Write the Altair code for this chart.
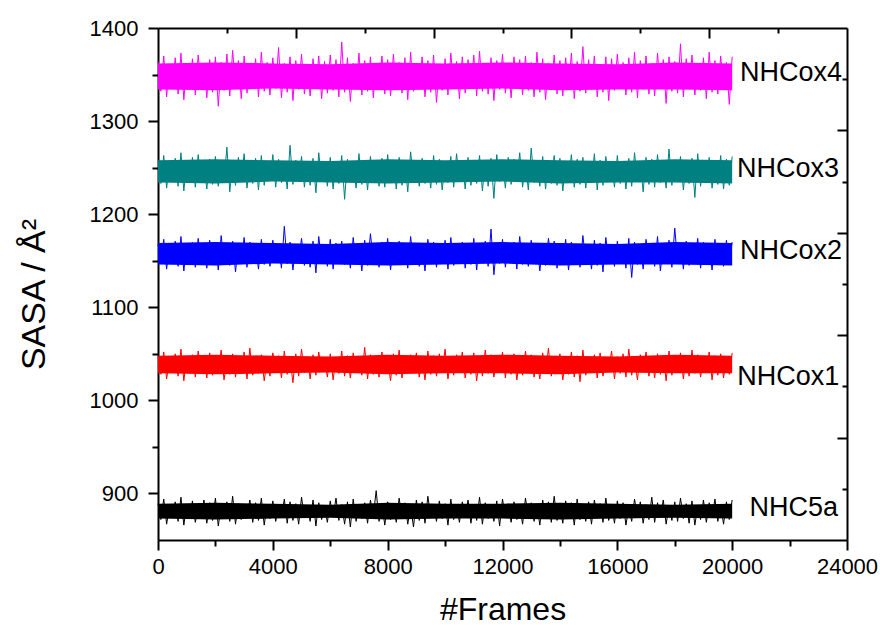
import altair as alt
import pandas as pd

FONT = "Liberation Sans"

SERIES = ["NHC5a", "NHCox1", "NHCox2", "NHCox3", "NHCox4"]
COLORS = ["#000000", "#FF0000", "#0000FF", "#008080", "#FF00FF"]

# zig-zag samples (every 100 frames): upper excursions at even samples, lower at odd samples
HI = {
    "NHC5a": [
        889, 894, 886, 891, 896, 888, 892, 885, 893, 890,
        895, 887, 891, 897, 889, 886, 893, 890, 895, 888,
        892, 886, 894, 891, 889, 896, 887, 893, 890, 885,
        892, 895, 888, 891, 894, 886, 890, 893, 903, 889,
        891, 887, 895, 890, 886, 893, 891, 897, 888, 892,
        889, 894, 886, 891, 893, 888, 896, 890, 887, 892,
        894, 889, 891, 886, 895, 890, 888, 893, 891, 897,
        887, 892, 890, 894, 886, 891, 893, 889, 895, 888,
        892, 890, 886, 894, 891, 888, 896, 890, 893, 887,
        891, 895, 889, 892, 886, 893, 890, 894, 888, 891,
        893],
    "NHCox1": [
        1047, 1052, 1044, 1050, 1055, 1046, 1049, 1053, 1045, 1051,
        1048, 1054, 1043, 1050, 1047, 1052, 1056, 1046, 1049, 1044,
        1051, 1048, 1053, 1045, 1050, 1055, 1047, 1049, 1052, 1044,
        1050, 1046, 1053, 1048, 1051, 1045, 1057, 1049, 1047, 1052,
        1044, 1050, 1054, 1046, 1049, 1051, 1045, 1053, 1048, 1050,
        1055, 1046, 1049, 1052, 1044, 1051, 1047, 1054, 1049, 1045,
        1052, 1048, 1050, 1046, 1053, 1049, 1044, 1051, 1056, 1047,
        1050, 1045, 1052, 1048, 1054, 1046, 1049, 1051, 1044, 1053,
        1047, 1050, 1055, 1045, 1049, 1052, 1046, 1050, 1048, 1053,
        1044, 1051, 1047, 1054, 1049, 1045, 1052, 1048, 1050, 1046,
        1051],
    "NHCox2": [
        1168, 1173, 1165, 1171, 1176, 1167, 1170, 1174, 1166, 1172,
        1169, 1177, 1164, 1171, 1168, 1175, 1170, 1166, 1173, 1169,
        1172, 1167, 1187, 1170, 1165, 1174, 1168, 1171, 1176, 1166,
        1173, 1169, 1171, 1165, 1175, 1168, 1172, 1179, 1167, 1170,
        1174, 1166, 1171, 1168, 1176, 1169, 1165, 1173, 1170, 1167,
        1172, 1175, 1168, 1170, 1166, 1174, 1169, 1171, 1184, 1167,
        1173, 1165, 1170, 1176, 1168, 1172, 1169, 1166, 1174, 1171,
        1167, 1173, 1170, 1165, 1177, 1168, 1172, 1169, 1175, 1166,
        1171, 1168, 1174, 1170, 1166, 1173, 1169, 1176, 1167, 1172,
        1185, 1168, 1171, 1165, 1174, 1170, 1167, 1173, 1169, 1172,
        1170],
    "NHCox3": [
        1257, 1263, 1254, 1260, 1266, 1256, 1261, 1264, 1255, 1259,
        1262, 1258, 1272, 1256, 1261, 1265, 1254, 1260, 1263, 1257,
        1264, 1259, 1255, 1274, 1258, 1262, 1256, 1260, 1266, 1254,
        1261, 1257, 1263, 1259, 1255, 1265, 1258, 1262, 1256, 1260,
        1264, 1255, 1261, 1258, 1267, 1257, 1260, 1254, 1263, 1259,
        1256, 1262, 1265, 1258, 1261, 1255, 1263, 1257, 1260, 1264,
        1256, 1261, 1259, 1266, 1255, 1271, 1258, 1262, 1257, 1263,
        1260, 1254, 1264, 1259, 1261, 1256, 1265, 1258, 1262, 1255,
        1263, 1257, 1260, 1266, 1256, 1261, 1259, 1264, 1255, 1270,
        1258, 1262, 1256, 1260, 1265, 1257, 1261, 1254, 1263, 1259,
        1262],
    "NHCox4": [
        1364, 1370, 1360, 1368, 1373, 1362, 1367, 1371, 1361, 1366,
        1369, 1363, 1372, 1376, 1365, 1370, 1361, 1367, 1374, 1363,
        1368, 1379, 1362, 1369, 1365, 1372, 1360, 1367, 1370, 1364,
        1371, 1366, 1385, 1368, 1362, 1373, 1365, 1369, 1361, 1370,
        1366, 1372, 1363, 1368, 1374, 1362, 1369, 1365, 1371, 1360,
        1367, 1373, 1364, 1369, 1366, 1371, 1375, 1362, 1368, 1365,
        1372, 1361, 1369, 1366, 1370, 1363, 1374, 1367, 1362, 1371,
        1365, 1368, 1373, 1364, 1380, 1366, 1370, 1361, 1369, 1367,
        1372, 1363, 1368, 1374, 1365, 1370, 1362, 1373, 1366, 1369,
        1364, 1383, 1367, 1371, 1362, 1368, 1374, 1365, 1370, 1363,
        1369],
}

LO = {
    "NHC5a": [
        872, 867, 875, 870, 866, 873, 869, 876, 868, 871,
        865, 874, 870, 867, 872, 876, 869, 871, 866, 873,
        870, 875, 868, 871, 867, 874, 870, 865, 872, 869,
        875, 871, 867, 864, 870, 873, 868, 876, 870, 866,
        872, 869, 874, 867, 864, 871, 868, 875, 870, 873,
        866, 872, 869, 876, 868, 871, 867, 873, 870, 865,
        874, 869, 872, 867, 875, 870, 866, 873, 869, 871,
        868, 874, 866, 872, 870, 867, 875, 869, 871, 868,
        873, 866, 870, 874, 868, 872, 869, 875, 867, 871,
        870, 873, 868, 866, 872, 869, 874, 870, 867, 872],
    "NHCox1": [
        1028, 1023, 1031, 1026, 1021, 1029, 1025, 1032, 1024, 1027,
        1030, 1022, 1028, 1025, 1031, 1023, 1027, 1029, 1021, 1026,
        1032, 1024, 1028, 1019, 1026, 1030, 1023, 1027, 1031, 1025,
        1022, 1029, 1026, 1024, 1031, 1027, 1023, 1028, 1025, 1030,
        1021, 1027, 1024, 1029, 1032, 1025, 1022, 1028, 1026, 1030,
        1023, 1027, 1031, 1024, 1028, 1021, 1026, 1029, 1025, 1032,
        1024, 1028, 1022, 1027, 1030, 1025, 1023, 1029, 1026, 1031,
        1022, 1028, 1025, 1020, 1027, 1030, 1024, 1026, 1032, 1023,
        1029, 1025, 1027, 1022, 1031, 1026, 1024, 1028, 1021, 1027,
        1030, 1023, 1026, 1029, 1025, 1031, 1022, 1027, 1024, 1028],
    "NHCox2": [
        1147, 1141, 1150, 1144, 1139, 1148, 1143, 1151, 1142, 1146,
        1140, 1149, 1145, 1138, 1147, 1143, 1150, 1141, 1146, 1144,
        1149, 1142, 1147, 1140, 1151, 1145, 1143, 1137, 1148, 1144,
        1141, 1150, 1146, 1142, 1148, 1139, 1145, 1149, 1143, 1147,
        1140, 1146, 1151, 1142, 1148, 1144, 1139, 1147, 1143, 1150,
        1141, 1145, 1148, 1142, 1146, 1140, 1149, 1144, 1135, 1147,
        1143, 1150, 1141, 1146, 1144, 1148, 1139, 1145, 1151, 1142,
        1147, 1140, 1146, 1143, 1149, 1141, 1145, 1138, 1148, 1144,
        1150, 1142, 1132, 1146, 1141, 1148, 1144, 1139, 1147, 1143,
        1149, 1141, 1145, 1150, 1142, 1146, 1140, 1148, 1144, 1147],
    "NHCox3": [
        1233, 1228, 1237, 1230, 1225, 1234, 1229, 1236, 1227, 1232,
        1230, 1235, 1224, 1231, 1237, 1228, 1233, 1226, 1231, 1236,
        1229, 1234, 1227, 1232, 1238, 1229, 1231, 1223, 1235, 1230,
        1227, 1233, 1216, 1236, 1228, 1232, 1226, 1234, 1230, 1229,
        1235, 1227, 1231, 1224, 1237, 1230, 1233, 1228, 1232, 1226,
        1234, 1229, 1236, 1227, 1231, 1233, 1225, 1230, 1217, 1235,
        1228, 1232, 1237, 1229, 1226, 1234, 1230, 1227, 1233, 1231,
        1225, 1236, 1229, 1232, 1228, 1234, 1226, 1231, 1235, 1229,
        1233, 1227, 1230, 1236, 1224, 1232, 1229, 1234, 1228, 1231,
        1237, 1226, 1233, 1218, 1230, 1235, 1228, 1232, 1227, 1231],
    "NHCox4": [
        1332, 1326, 1336, 1329, 1323, 1334, 1328, 1337, 1325, 1331,
        1316, 1333, 1327, 1335, 1324, 1330, 1336, 1326, 1332, 1328,
        1335, 1325, 1331, 1322, 1334, 1329, 1327, 1337, 1324, 1330,
        1333, 1326, 1331, 1321, 1335, 1328, 1332, 1325, 1336, 1329,
        1327, 1334, 1330, 1323, 1332, 1336, 1326, 1331, 1320, 1333,
        1328, 1335, 1324, 1330, 1337, 1327, 1332, 1329, 1322, 1334,
        1330, 1325, 1336, 1328, 1333, 1326, 1331, 1323, 1335, 1329,
        1327, 1334, 1324, 1332, 1330, 1336, 1326, 1331, 1322, 1333,
        1335, 1328, 1331, 1325, 1334, 1329, 1327, 1336, 1319, 1332,
        1330, 1326, 1335, 1328, 1333, 1324, 1331, 1329, 1334, 1318],
}

# dense (solid-looking) core of each band, every 2000 frames
CORE_FRAMES = [0, 2000, 4000, 6000, 8000, 10000, 12000, 14000, 16000, 18000, 20000]
CORE_LO = {
    "NHC5a": [873, 872, 873, 874, 872, 873, 873, 872, 873, 874, 873],
    "NHCox1": [1029, 1028, 1029, 1030, 1028, 1029, 1029, 1028, 1030, 1029, 1029],
    "NHCox2": [1146, 1145, 1147, 1146, 1145, 1146, 1147, 1145, 1146, 1146, 1145],
    "NHCox3": [1234, 1233, 1235, 1234, 1233, 1234, 1235, 1233, 1234, 1234, 1233],
    "NHCox4": [1334, 1333, 1335, 1334, 1333, 1334, 1335, 1333, 1334, 1334, 1333],
}
CORE_HI = {
    "NHC5a": [889, 890, 889, 888, 890, 889, 889, 890, 889, 888, 889],
    "NHCox1": [1048, 1049, 1048, 1047, 1049, 1048, 1049, 1048, 1047, 1049, 1048],
    "NHCox2": [1169, 1170, 1169, 1168, 1170, 1169, 1170, 1169, 1168, 1170, 1169],
    "NHCox3": [1258, 1259, 1258, 1257, 1259, 1258, 1259, 1258, 1257, 1259, 1258],
    "NHCox4": [1362, 1363, 1362, 1361, 1363, 1362, 1363, 1362, 1361, 1363, 1362],
}

LABEL_X = [20600, 20180, 20270, 20170, 20270]
LABEL_Y = [884, 1025, 1160, 1248, 1352]

X_DOMAIN = [0, 24000]
Y_DOMAIN = [850, 1400]
X_MAJOR = [0, 4000, 8000, 12000, 16000, 20000, 24000]
X_MINOR = [2000, 6000, 10000, 14000, 18000, 22000]
Y_MAJOR = [900, 1000, 1100, 1200, 1300, 1400]
Y_MINOR = [950, 1050, 1150, 1250, 1350]
TOP_LONG = [4800, 9600, 14400, 19200]
TOP_SHORT = [2400, 7200, 12000, 16800, 21600]
RIGHT_LONG = [960, 1070, 1180, 1290]
RIGHT_SHORT = [905, 1015, 1125, 1235, 1345]

PLOT_W, PLOT_H = 689, 512

# ---- tables ----
rows = []
for s in SERIES:
    hi, lo = HI[s], LO[s]
    for i in range(len(hi) + len(lo)):
        v = hi[i // 2] if i % 2 == 0 else lo[i // 2]
        rows.append({"series": s, "frame": i * 100, "sasa": v})
line_df = pd.DataFrame(rows)

core_rows = []
for s in SERIES:
    for f, a, b in zip(CORE_FRAMES, CORE_LO[s], CORE_HI[s]):
        core_rows.append({"series": s, "frame": f, "lo": a, "hi": b})
core_df = pd.DataFrame(core_rows)

label_df = pd.DataFrame({"series": SERIES, "x": LABEL_X, "y": LABEL_Y})

color = alt.Color("series:N", scale=alt.Scale(domain=SERIES, range=COLORS), legend=None)
xs = alt.Scale(domain=X_DOMAIN, nice=False, zero=False)
ys = alt.Scale(domain=Y_DOMAIN, nice=False, zero=False)

common = dict(domainColor="black", tickColor="black", domainWidth=2, tickWidth=2,
              grid=False, labelFont=FONT, labelColor="black", titleFont=FONT,
              titleColor="black", titleFontWeight="normal")

x_major = alt.Axis(values=X_MAJOR, format="d", tickSize=10, labelFontSize=22, labelPadding=6,
                   labelFlush=False, title="#Frames", titleFontSize=32, titleY=79,
                   titleBaseline="alphabetic", orient="bottom", **common)
x_minor = alt.Axis(values=X_MINOR, tickSize=6, labels=False, domain=False, title=None,
                   orient="bottom", **common)
x_top_long = alt.Axis(values=TOP_LONG, tickSize=10, labels=False, title=None,
                      orient="bottom", offset=-PLOT_H, **common)
x_top_short = alt.Axis(values=TOP_SHORT, tickSize=5, labels=False, title=None, domain=False,
                       orient="bottom", offset=-PLOT_H, **common)

y_major = alt.Axis(values=Y_MAJOR, format="d", tickSize=10, labelFontSize=22, labelPadding=10,
                   title="SASA / Å²", titleFontSize=34, titleAngle=270, titleX=-114, titleY=266,
                   titleAlign="center", titleBaseline="alphabetic", orient="left", **common)
y_minor = alt.Axis(values=Y_MINOR, tickSize=6, labels=False, domain=False, title=None,
                   orient="left", **common)
y_right_long = alt.Axis(values=RIGHT_LONG, tickSize=10, labels=False, title=None,
                        orient="left", offset=-PLOT_W, **common)
y_right_short = alt.Axis(values=RIGHT_SHORT, tickSize=5, labels=False, title=None, domain=False,
                         orient="left", offset=-PLOT_W, **common)

core = alt.Chart(core_df).mark_area(opacity=1).encode(
    x=alt.X("frame:Q", scale=xs, axis=x_major),
    y=alt.Y("lo:Q", scale=ys, axis=y_major, stack=None),
    y2="hi:Q",
    color=color,
)

zig = alt.Chart(line_df).mark_line(strokeWidth=1).encode(
    x=alt.X("frame:Q", scale=xs, axis=x_minor),
    y=alt.Y("sasa:Q", scale=ys, axis=y_minor),
    color=color,
)

labels = alt.Chart(label_df).mark_text(
    align="left", baseline="middle", font=FONT, fontSize=27, color="black"
).encode(
    x=alt.X("x:Q", scale=xs, axis=x_top_long),
    y=alt.Y("y:Q", scale=ys, axis=y_right_long),
    text="series:N",
)

ghost = alt.Chart(label_df).mark_text(opacity=0, fontSize=1).encode(
    x=alt.X("x:Q", scale=xs, axis=x_top_short),
    y=alt.Y("y:Q", scale=ys, axis=y_right_short),
    text="series:N",
)

chart = alt.layer(core, zig, labels, ghost).resolve_axis(
    x="independent", y="independent"
).properties(
    width=PLOT_W, height=PLOT_H,
    padding={"left": 158, "top": 28, "right": 33, "bottom": 85},
    autosize=alt.AutoSizeParams(type="none"),
    background="white",
).configure_view(stroke=None)

chart.save("out.html", embed_options={"renderer": "svg", "actions": False})
